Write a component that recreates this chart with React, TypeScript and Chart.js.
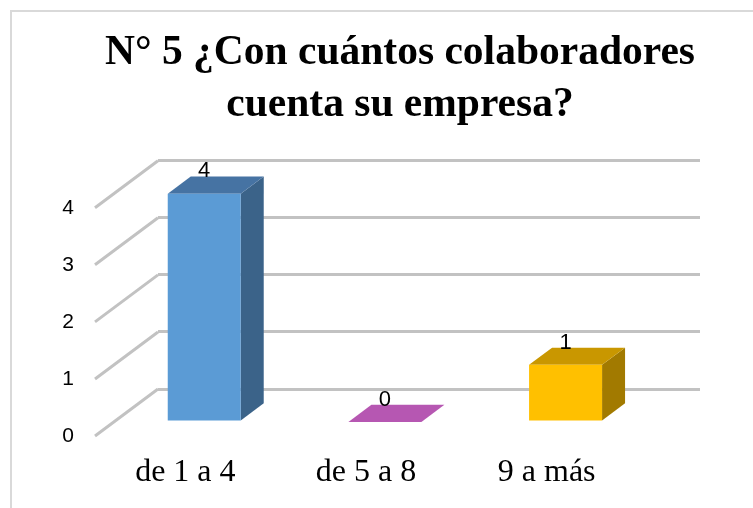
import React, { useEffect, useRef } from 'react';
import { Chart, registerables } from 'chart.js';

Chart.register(...registerables);

// ---- data ----
const categories = ['de 1 a 4', 'de 5 a 8', '9 a más'];
const values = [4, 0, 1];
const yMin = 0;
const yMax = 4;
const yStep = 1;
const titleLines = ['N° 5 ¿Con cuántos colaboradores', 'cuenta su empresa?'];

// ---- styles ----
const frontColors = ['#5B9BD5', '#B656B2', '#FFC000'];
const topColors = ['#4673A3', '#B657B2', '#C99700'];
const sideColors = ['#3B6389', '#8E3F8C', '#A27A00'];
const gridColor = '#C2C2C2';
const DEPTH_X = 63; // horizontal offset of front plane vs back wall
const DEPTH_Y = 47; // vertical offset of front plane vs back wall
const T_FRONT = 0.3;
const T_BACK = 0.665;

const map = (x: number, y: number, t: number): [number, number] => [
  x - (1 - t) * DEPTH_X,
  y + (1 - t) * DEPTH_Y,
];

const bar3dPlugin = {
  id: 'bar3d',
  beforeDraw(chart: any) {
    const ctx = chart.ctx;
    ctx.save();
    ctx.strokeStyle = '#D9D9D9';
    ctx.lineWidth = 2;
    ctx.beginPath();
    ctx.moveTo(11, chart.height + 5);
    ctx.lineTo(11, 11);
    ctx.lineTo(chart.width + 5, 11);
    ctx.stroke();
    ctx.restore();
  },
  afterDatasetsDraw(chart: any) {
    const ctx = chart.ctx;
    const yScale = chart.scales.y;
    const area = chart.chartArea;
    ctx.save();
    // left-side diagonal grid lines
    ctx.strokeStyle = gridColor;
    ctx.lineWidth = 3;
    ctx.lineCap = 'butt';
    for (let v = yMin; v <= yMax; v += yStep) {
      const yb = yScale.getPixelForValue(v);
      const [fx, fy] = map(area.left, yb, 0);
      ctx.beginPath();
      ctx.moveTo(area.left, yb);
      ctx.lineTo(fx, fy);
      ctx.stroke();
    }
    // bars
    const meta = chart.getDatasetMeta(0);
    meta.data.forEach((el: any, i: number) => {
      const { x, y, base, width } = el.getProps(['x', 'y', 'base', 'width'], true);
      const xl = x - width / 2;
      const xr = x + width / 2;
      const poly = (pts: [number, number][], color: string) => {
        ctx.beginPath();
        ctx.moveTo(pts[0][0], pts[0][1]);
        for (let k = 1; k < pts.length; k++) ctx.lineTo(pts[k][0], pts[k][1]);
        ctx.closePath();
        ctx.fillStyle = color;
        ctx.fill();
      };
      poly([map(xr, y, T_FRONT), map(xr, y, T_BACK), map(xr, base, T_BACK), map(xr, base, T_FRONT)], sideColors[i]);
      poly([map(xl, y, T_FRONT), map(xr, y, T_FRONT), map(xr, y, T_BACK), map(xl, y, T_BACK)], topColors[i]);
      poly([map(xl, y, T_FRONT), map(xr, y, T_FRONT), map(xr, base, T_FRONT), map(xl, base, T_FRONT)], frontColors[i]);
      const [lx] = map(x, y, T_FRONT);
      const [, ly] = map(x, y, T_BACK);
      ctx.fillStyle = '#000000';
      ctx.font = '22px "Liberation Sans", Arial, sans-serif';
      ctx.textAlign = 'center';
      ctx.textBaseline = 'alphabetic';
      ctx.fillText(String(values[i]), lx, ly + 1);
    });
    ctx.restore();
  },
};

export default function App() {
  const canvasRef = useRef<HTMLCanvasElement | null>(null);

  useEffect(() => {
    document.body.style.margin = '0';
    const canvas = canvasRef.current;
    if (!canvas) return;
    const chart = new Chart(canvas, {
      type: 'bar',
      data: {
        labels: categories,
        datasets: [
          {
            data: values,
            backgroundColor: 'rgba(0,0,0,0)',
            borderWidth: 0,
            barPercentage: 0.404,
            categoryPercentage: 1,
          },
        ],
      },
      options: {
        responsive: false,
        animation: false,
        devicePixelRatio: 1,
        layout: { padding: { left: 55, right: 8, top: 0, bottom: 0 } },
        plugins: {
          legend: { display: false },
          tooltip: { enabled: false },
          title: {
            display: true,
            text: titleLines,
            color: '#000000',
            font: { family: '"Liberation Serif", "Times New Roman", serif', size: 41.5, weight: 'bold', lineHeight: 1.25 },
            padding: { top: 27, bottom: 30 },
          },
        },
        scales: {
          x: {
            grid: { display: false, drawTicks: false },
            border: { display: false },
            ticks: {
              color: '#000000',
              font: { family: '"Liberation Serif", "Times New Roman", serif', size: 32 },
              padding: 64,
              labelOffset: -DEPTH_X,
              maxRotation: 0,
              autoSkip: false,
            },
            afterFit: (scale: any) => {
              scale.height = 119;
            },
          },
          y: {
            min: yMin,
            max: yMax,
            grid: { color: gridColor, lineWidth: 3, drawTicks: false },
            border: { display: false },
            ticks: {
              stepSize: yStep,
              color: '#000000',
              font: { family: '"Liberation Sans", Arial, sans-serif', size: 21 },
              padding: 84,
              labelOffset: DEPTH_Y,
            },
            afterFit: (scale: any) => {
              scale.width = 103;
            },
          },
          y2: {
            type: 'linear',
            position: 'right',
            display: true,
            grid: { display: false, drawOnChartArea: false, drawTicks: false },
            border: { display: false },
            ticks: { display: false },
            afterFit: (scale: any) => {
              scale.width = 45;
            },
          },
        },
      },
      plugins: [bar3dPlugin],
    });
    return () => chart.destroy();
  }, []);

  return (
    <div style={{ width: 753, height: 508, position: 'relative', overflow: 'hidden', background: '#ffffff' }}>
      <canvas ref={canvasRef} width={753} height={508} style={{ display: 'block', width: 753, height: 508 }} />
    </div>
  );
}
